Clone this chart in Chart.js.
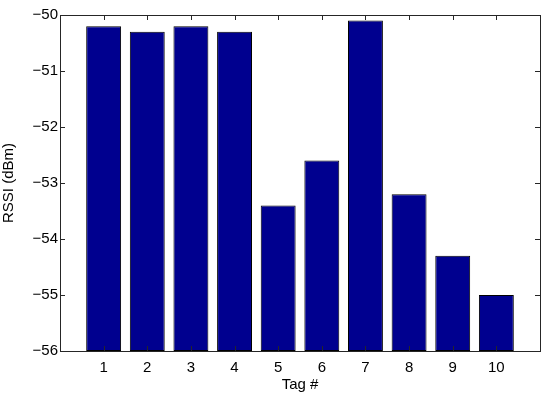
<!DOCTYPE html>
<html>
<head>
<meta charset="utf-8">
<script src="https://cdn.jsdelivr.net/npm/chart.js@4"></script>
<style>
  body { margin: 0; background: #fff; }
  #wrap { width: 550px; height: 404px; }
</style>
</head>
<body>
<div id="wrap"><canvas id="chart" width="550" height="404"></canvas></div>
<script>
const tags = [1, 2, 3, 4, 5, 6, 7, 8, 9, 10];
const rssi = [-50.2, -50.3, -50.2, -50.3, -53.4, -52.6, -50.1, -53.2, -54.3, -55.0];
const yTicks = [-56, -55, -54, -53, -52, -51, -50];
const yFloor = -56;

const barColor = "#00008f";
const font = { family: "Liberation Sans, Arial, sans-serif", size: 15 };

// MATLAB-style inward tick marks on all four sides
const inwardTicks = {
  id: "inwardTicks",
  afterDraw(chart) {
    const ctx = chart.ctx;
    const a = chart.chartArea;
    const xs = chart.scales.x, ys = chart.scales.y;
    const len = 5;
    ctx.save();
    ctx.strokeStyle = "#262626";
    ctx.lineWidth = 1;
    ctx.beginPath();
    for (const t of tags) {
      const px = Math.round(xs.getPixelForValue(t)) + 0.5;
      ctx.moveTo(px, a.bottom); ctx.lineTo(px, a.bottom - len);
      ctx.moveTo(px, a.top); ctx.lineTo(px, a.top + len);
    }
    for (const t of yTicks) {
      const py = Math.round(ys.getPixelForValue(t)) + 0.5;
      ctx.moveTo(a.left, py); ctx.lineTo(a.left + len, py);
      ctx.moveTo(a.right, py); ctx.lineTo(a.right - len, py);
    }
    ctx.stroke();
    ctx.strokeRect(Math.round(a.left) + 0.5, Math.round(a.top) + 0.5,
      Math.round(a.right - a.left), Math.round(a.bottom - a.top));
    ctx.restore();
  }
};

const ctx = document.getElementById("chart").getContext("2d");

new Chart(ctx, {
  type: "bar",
  data: {
    datasets: [{
      data: tags.map((t, i) => ({ x: t, y: [yFloor, rssi[i]] })),
      backgroundColor: barColor,
      borderColor: "#000000",
      borderWidth: 1,
      borderSkipped: false,
      barPercentage: 0.8,
      categoryPercentage: 1.0
    }]
  },
  options: {
    responsive: false,
    animation: false,
    layout: { padding: { top: 15, right: 10, left: 0, bottom: 0 } },
    plugins: { legend: { display: false }, tooltip: { enabled: false } },
    scales: {
      x: {
        type: "linear",
        min: 0,
        max: 11,
        offset: false,
        afterBuildTicks: s => { s.ticks = tags.map(v => ({ value: v })); },
        afterFit: s => { s.height = 53; },
        grid: { display: false, drawTicks: false },
        border: { display: false },
        ticks: { color: "#000", font: font, padding: 8, maxRotation: 0 },
        title: { display: true, text: "Tag #", color: "#000", font: font, padding: { top: 0, bottom: 10 } }
      },
      y: {
        min: -56,
        max: -50,
        afterBuildTicks: s => { s.ticks = yTicks.map(v => ({ value: v })); },
        afterFit: s => { s.width = 60; },
        grid: { display: false, drawTicks: false },
        border: { display: false },
        ticks: {
          color: "#000",
          font: font,
          padding: 2,
          callback: v => String(v).replace("-", "\u2212")
        },
        title: { display: true, text: "RSSI (dBm)", color: "#000", font: font, padding: { top: 0, bottom: 4 } }
      }
    }
  },
  plugins: [inwardTicks]
});
</script>
</body>
</html>
